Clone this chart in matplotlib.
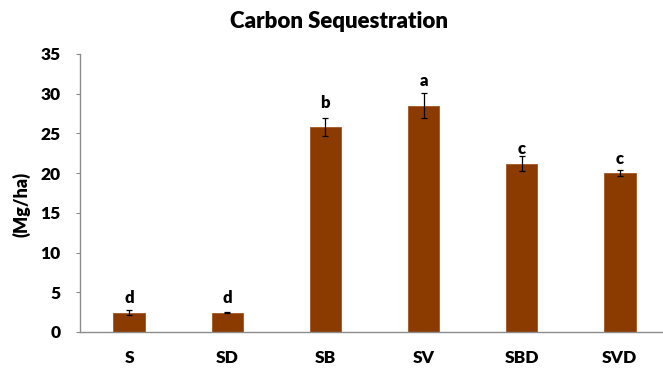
import numpy as np
import matplotlib
matplotlib.use('Agg')
import matplotlib.pyplot as plt

plt.rcParams['font.family'] = ['Lato', 'DejaVu Sans']
plt.rcParams['font.weight'] = 'heavy'

# Données
traitements = ['S', 'SD', 'SB', 'SV', 'SBD', 'SVD']
sequestration = [2.45, 2.45, 25.8, 28.5, 21.2, 20.0]
erreur = [0.35, 0.05, 1.1, 1.6, 0.95, 0.4]
lettres = ['d', 'd', 'b', 'a', 'c', 'c']
pos_lettres = [3.6, 3.6, 28.2, 31.0, 22.4, 21.2]

couleur_barre = '#8B3A00'
couleur_axe = '#8c8c8c'

fig = plt.figure(figsize=(6.63, 3.69), dpi=100)
ax = fig.add_axes([80/663, 37/369, 583/663, 278/369])

x = np.arange(len(traitements))
ax.bar(x, sequestration, width=0.32, color=couleur_barre,
       edgecolor='#A5561F', linewidth=0.6,
       yerr=erreur, capsize=2, error_kw=dict(ecolor='black', elinewidth=0.9, capthick=0.9))

for xi, lettre, yl in zip(x, lettres, pos_lettres):
    ax.text(xi, yl, lettre, ha='center', va='baseline', fontsize=12, fontweight='heavy')

ax.set_xlim(-0.5, 5.44)
ax.set_ylim(0, 35)
ax.set_yticks(np.arange(0, 36, 5))
ax.set_xticks(x)
ax.set_xticklabels(traitements)

for s in ['top', 'right']:
    ax.spines[s].set_visible(False)
for s in ['left', 'bottom']:
    ax.spines[s].set_color(couleur_axe)
    ax.spines[s].set_linewidth(1.0)

ax.tick_params(axis='y', length=3, color=couleur_axe, pad=11, labelsize=12.5)
ax.tick_params(axis='x', length=0, pad=13, labelsize=12.5)

ax.set_ylabel('(Mg/ha)', fontsize=13, fontweight='heavy', va='center')
ax.yaxis.set_label_coords(-0.1, 0.46)

fig.text(0.511, 1 - 28/369, 'Carbon Sequestration', ha='center', va='baseline',
         fontsize=16, fontweight='heavy')

fig.savefig('out.png', dpi=100)
